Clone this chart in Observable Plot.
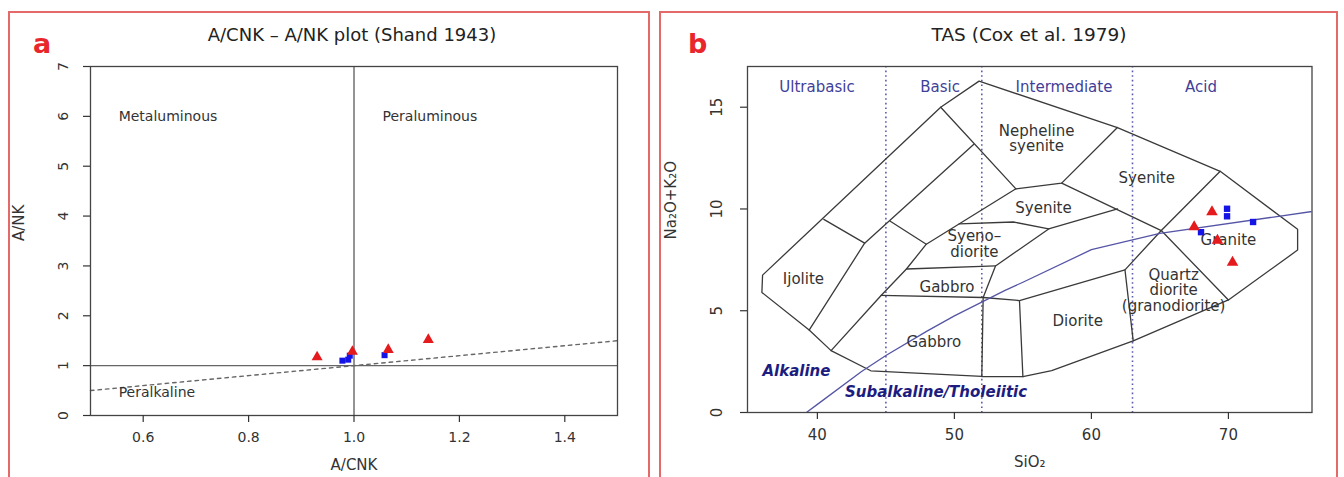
<!DOCTYPE html>
<html>
<head>
<meta charset="utf-8">
<script src="https://cdn.jsdelivr.net/npm/d3@7"></script>
<script src="https://cdn.jsdelivr.net/npm/@observablehq/plot@0.6"></script>
<style>
  html, body { margin: 0; padding: 0; background: #fff; }
  #root { position: relative; width: 1344px; height: 477px; overflow: hidden; font-family: "DejaVu Sans", sans-serif; }
  .chart { position: absolute; top: 56px; }
  .panel-border { position: absolute; border: 2px solid #e46a6a; box-sizing: border-box; pointer-events: none; }
  .title { position: absolute; transform: translate(-50%, -50%); white-space: nowrap; color: #222; line-height: 1; }
  .tag { position: absolute; color: #e8262c; font-weight: bold; font-size: 27px; line-height: 1; }
</style>
</head>
<body>
<div id="root">
  <div id="chartA" class="chart" style="left:0px"></div>
  <div id="chartB" class="chart" style="left:660px"></div>
  <div class="panel-border" style="left:8px;top:11px;width:642px;height:480px"></div>
  <div class="panel-border" style="left:659px;top:11px;width:679px;height:480px"></div>
  <div class="title" style="left:352px;top:35px;font-size:18px">A/CNK – A/NK plot (Shand 1943)</div>
  <div class="title" style="left:1029px;top:35px;font-size:18.5px">TAS (Cox et al. 1979)</div>
  <div class="tag" style="left:33px;top:30px">a</div>
  <div class="tag" style="left:688px;top:30px">b</div>
</div>
<script>
// ---------- Panel a data (A/CNK vs A/NK) ----------
const redACNK  = [0.93, 0.997, 1.065, 1.141];
const redANK   = [1.17, 1.28, 1.32, 1.52];
const blueACNK = [0.978, 0.989, 0.992, 1.058];
const blueANK  = [1.10, 1.12, 1.20, 1.21];
const shandGuideX = [0.5, 1.5];
const shandGuideY = [0.5, 1.5];
const shandDivACNK = [1];
const shandDivANK = [1];
const aTicksX = [0.6, 0.8, 1.0, 1.2, 1.4];
const aTicksY = [0, 1, 2, 3, 4, 5, 6, 7];
const aLabelText = ["Metaluminous", "Peraluminous", "Peralkaline"];
const aLabelX = [0.647, 1.144, 0.626];
const aLabelY = [6.0, 6.0, 0.47];

// ---------- Panel b data (TAS, Cox et al. 1979) ----------
const redSiO2  = [67.5, 68.8, 69.2, 70.3];
const redAlk   = [9.12, 9.85, 8.46, 7.37];
const blueSiO2 = [68.0, 69.9, 69.9, 71.8];
const blueAlk  = [8.86, 10.01, 9.64, 9.36];

const tasOutline = [[36.0,6.75],[35.95,5.9],[39.4,4.05],[41.0,3.04],[43.9,2.05],[52.0,1.77],[55.0,1.76],[57.1,2.06],[63.05,3.52],[70.0,5.53],[75.05,7.98],[75.05,9.0],[69.4,11.85],[61.9,14.0],[51.8,16.28],[49.0,15.0],[36.0,6.75]];
const tasDiv1  = [[40.47,9.49],[43.45,8.32]];
const tasDiv2  = [[39.4,4.05],[43.45,8.32],[51.4,13.17]];
const tasDiv3  = [[45.32,9.4],[47.95,8.27]];
const tasDiv4  = [[41.0,3.04],[44.65,5.75],[46.5,7.05],[47.95,8.27],[54.49,10.99]];
const tasDiv5  = [[49.0,15.0],[54.49,10.99]];
const tasDiv6  = [[54.49,10.99],[57.83,11.27],[61.9,14.0]];
const tasDiv7  = [[57.83,11.27],[65.1,8.94],[70.0,5.53]];
const tasDiv8  = [[69.4,11.85],[65.1,8.94],[62.45,7.01],[63.05,3.52]];
const tasDiv9  = [[62.45,7.01],[54.75,5.5],[55.0,1.76]];
const tasDiv10 = [[50.35,9.27],[54.3,9.36],[56.88,9.02],[61.91,10.0]];
const tasDiv11 = [[56.88,9.02],[53.0,7.2],[52.1,5.65],[52.0,1.77]];
const tasDiv12 = [[46.5,7.05],[53.0,7.2]];
const tasDiv13 = [[44.65,5.75],[52.1,5.65],[54.75,5.5]];

const irvineSiO2 = [39.2, 40, 43.2, 45, 48, 50, 53.7, 55, 60, 65, 77.4];
const irvineAlk  = [0, 0.4, 2, 2.8, 4, 4.75, 6, 6.4, 8, 8.8, 10];

const silicaDivisions = [45, 52, 63];
const silicaClassText = ["Ultrabasic", "Basic", "Intermediate", "Acid"];
const silicaClassX = [39.97, 48.96, 58.0, 68.0];
const silicaClassY = [15.98, 15.98, 15.98, 15.98];

const fieldText = ["Nepheline\nsyenite", "Syenite", "Syenite", "Syeno–\ndiorite", "Gabbro", "Gabbro", "Ijolite", "Diorite", "Quartz\ndiorite\n(granodiorite)", "Granite"];
const fieldX = [56.0, 64.04, 56.5, 51.46, 49.46, 48.5, 38.98, 59.0, 66.0, 70.0];
const fieldY = [13.47, 11.53, 10.04, 8.29, 6.19, 3.49, 6.55, 4.49, 6.0, 8.5];

const seriesText = ["Alkaline", "Subalkaline/Tholeiitic"];
const seriesX = [38.47, 48.66];
const seriesY = [2.01, 1.0];

const bTicksX = [40, 50, 60, 70];
const bTicksY = [0, 5, 10, 15];

// ---------- build tables ----------
const pairs = (xs, ys) => xs.map((x, i) => ({x, y: ys[i]}));
const tasSegments = [tasOutline, tasDiv1, tasDiv2, tasDiv3, tasDiv4, tasDiv5, tasDiv6, tasDiv7, tasDiv8, tasDiv9, tasDiv10, tasDiv11, tasDiv12, tasDiv13]
  .flatMap((seg, k) => seg.map(([x, y]) => ({x, y, seg: k})));

const RED = "#e41a1c";
const BLUE = "#1414e6";
const INK = "#333";
const baseStyle = {fontFamily: "'DejaVu Sans', sans-serif", color: INK, background: "transparent", overflow: "visible"};

const plotA = Plot.plot({
  width: 650, height: 421,
  marginLeft: 90, marginRight: 33, marginTop: 10, marginBottom: 62,
  style: {...baseStyle, fontSize: "14px"},
  x: {domain: [0.5, 1.5]},
  y: {domain: [0, 7]},
  marks: [
    Plot.ruleX(shandDivACNK, {stroke: "#666", strokeWidth: 1.4}),
    Plot.ruleY(shandDivANK, {stroke: "#666", strokeWidth: 1.4}),
    Plot.line(pairs(shandGuideX, shandGuideY), {x: "x", y: "y", stroke: "#666", strokeWidth: 1.4, strokeDasharray: "3.5,4"}),
    Plot.text(aLabelText, {x: (d, i) => aLabelX[i], y: (d, i) => aLabelY[i], fontSize: 14, fill: INK}),
    Plot.dot(blueACNK, {x: d => d, y: (d, i) => blueANK[i], symbol: "square", r: 3.4, fill: BLUE, stroke: "none"}),
    Plot.dot(redACNK, {x: d => d, y: (d, i) => redANK[i], symbol: "triangle", r: 4.1, fill: RED, stroke: "none"}),
    Plot.frame({stroke: "#444", strokeWidth: 1.3}),
    Plot.axisX({ticks: aTicksX, tickSize: 7, tickPadding: 10, tickFormat: d3.format(".1f"), label: null, fontSize: 14, strokeWidth: 1.2}),
    Plot.axisY({ticks: aTicksY, tickSize: 7, tickPadding: 16, tickRotate: -90, tickFormat: d3.format("d"), label: null, fontSize: 14, strokeWidth: 1.2}),
    Plot.text(["A/CNK"], {frameAnchor: "bottom", dy: 54, fontSize: 15, fill: INK}),
    Plot.text(["A/NK"], {frameAnchor: "left", dx: -71, rotate: -90, fontSize: 15, fill: INK})
  ]
});
document.getElementById("chartA").appendChild(plotA);

const plotB = Plot.plot({
  width: 684, height: 421,
  marginLeft: 87, marginRight: 32.5, marginTop: 10, marginBottom: 65,
  style: {...baseStyle, fontSize: "15px"},
  x: {domain: [34.9, 76.1]},
  y: {domain: [0, 17]},
  marks: [
    Plot.ruleX(silicaDivisions, {stroke: "#5c5cae", strokeWidth: 1.6, strokeDasharray: "1.6,3"}),
    Plot.line(tasSegments, {x: "x", y: "y", z: "seg", stroke: "#3a3a3a", strokeWidth: 1.3}),
    Plot.line(pairs(irvineSiO2, irvineAlk), {x: "x", y: "y", stroke: "#5555a6", strokeWidth: 1.3, clip: true}),
    Plot.text(silicaClassText, {x: (d, i) => silicaClassX[i], y: (d, i) => silicaClassY[i], fill: "#3f3f9a", fontSize: 15}),
    Plot.text(fieldText, {x: (d, i) => fieldX[i], y: (d, i) => fieldY[i], fill: INK, fontSize: 15, lineHeight: 1.05}),
    Plot.text(seriesText, {x: (d, i) => seriesX[i], y: (d, i) => seriesY[i], fill: "#1d1d80", fontSize: 15, fontWeight: "bold", fontStyle: "italic"}),
    Plot.dot(blueSiO2, {x: d => d, y: (d, i) => blueAlk[i], symbol: "square", r: 3.6, fill: BLUE, stroke: "none"}),
    Plot.dot(redSiO2, {x: d => d, y: (d, i) => redAlk[i], symbol: "triangle", r: 4.3, fill: RED, stroke: "none"}),
    Plot.frame({stroke: "#444", strokeWidth: 1.3}),
    Plot.axisX({ticks: bTicksX, tickSize: 7, tickPadding: 10, label: null, fontSize: 15, strokeWidth: 1.2}),
    Plot.axisY({ticks: bTicksY, tickSize: 7, tickPadding: 19, tickRotate: -90, label: null, fontSize: 15, strokeWidth: 1.2}),
    Plot.text(["SiO₂"], {frameAnchor: "bottom", dy: 54, fontSize: 15, fill: INK}),
    Plot.text(["Na₂O+K₂O"], {frameAnchor: "left", dx: -76, rotate: -90, fontSize: 15, fill: INK})
  ]
});
document.getElementById("chartB").appendChild(plotB);
</script>
</body>
</html>
